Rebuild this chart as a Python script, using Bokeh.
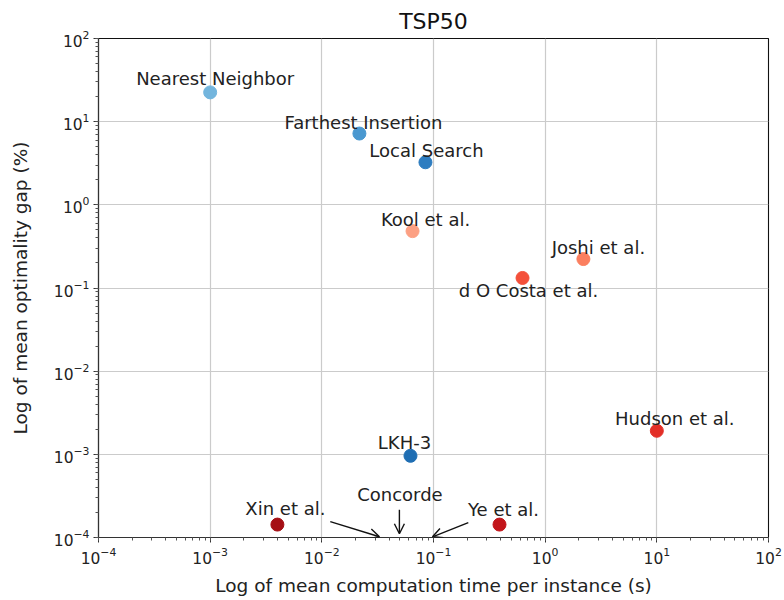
from bokeh.plotting import figure
from bokeh.models import ColumnDataSource, LabelSet, Arrow, OpenHead, Label, Range1d
from bokeh.core.properties import value
from bokeh.embed import file_html
from bokeh.resources import INLINE

# ---- data ----
methods = ["Nearest Neighbor", "Farthest Insertion", "Local Search", "Kool et al.",
           "Joshi et al.", "d O Costa et al.", "Hudson et al.", "LKH-3", "Xin et al.", "Ye et al."]
time_s = [0.001, 0.0217, 0.0847, 0.0649, 2.2, 0.627, 10.0, 0.0622, 0.0040, 0.39]
gap_pct = [22.5, 7.2, 3.25, 0.483, 0.223, 0.132, 0.00192, 0.00096, 0.000143, 0.000143]
colors = ["#73b5dd", "#4a98d0", "#2e7dc0", "#fca083", "#fb7f5f", "#f4503a",
          "#e32f27", "#1f6eb3", "#a50f15", "#c3161b"]
label_dx = [5, 4, 1, 13, 15, 6, 18, -6, 8, 4]
label_dy = [7, 5, 5, 5, 5, -19, 6, 7, 10, 9]

concorde_label = "Concorde"
concorde_text_pos = (0.05, 0.000330)
arrow_tails = [(0.0119, 0.000155), (0.0495, 0.000216), (0.205, 0.000151)]
arrow_tips = [(0.0328, 0.000102), (0.0495, 0.000111), (0.098, 0.000102)]

FONT = "DejaVu Sans"

p = figure(width=784, height=598, x_axis_type="log", y_axis_type="log",
           x_range=Range1d(1e-4, 1e2), y_range=Range1d(1e-4, 1e2),
           output_backend="svg", toolbar_location=None,
           min_border_left=98, min_border_right=16, min_border_top=38, min_border_bottom=60,
           title="TSP50")

p.title.text_font = FONT
p.title.text_font_size = "22px"
p.title.text_font_style = "normal"
p.title.align = "center"
p.title.text_color = "#111111"
p.title.standoff = 9

p.outline_line_color = "#111111"
p.outline_line_width = 1.1
p.background_fill_color = "white"
p.border_fill_color = "white"

for ax in (p.xaxis, p.yaxis):
    ax.axis_line_color = "#333333"
    ax.axis_line_width = 1.2
    ax.major_tick_line_color = "#333333"
    ax.minor_tick_line_color = "#555555"
    ax.major_tick_out = 5
    ax.major_tick_in = 0
    ax.minor_tick_out = 3
    ax.minor_tick_in = 0
    ax.major_label_text_font = FONT
    ax.major_label_text_font_size = "15.5px"
    ax.major_label_text_color = "#222222"
    ax.axis_label_text_font = FONT
    ax.axis_label_text_font_size = "18.5px"
    ax.axis_label_text_font_style = "normal"
    ax.axis_label_text_color = "#222222"
    ax.major_label_standoff = 4

p.xaxis.axis_label_standoff = 8
p.yaxis.axis_label_standoff = 20
p.xaxis.axis_label = "Log of mean computation time per instance (s)"
p.yaxis.axis_label = "Log of mean optimality gap (%)"

p.xgrid.grid_line_color = "#cbcbcb"
p.ygrid.grid_line_color = "#cbcbcb"
p.xgrid.grid_line_width = 1.2
p.ygrid.grid_line_width = 1.2

src = ColumnDataSource(dict(x=time_s, y=gap_pct, c=colors, name=methods,
                            dx=label_dx, dy=label_dy))
p.scatter("x", "y", source=src, size=13, fill_color="c", line_color="c")

labels = LabelSet(x="x", y="y", text="name", source=src, x_offset="dx", y_offset="dy",
                  text_align="center", text_baseline="alphabetic",
                  text_font=value(FONT), text_font_size=value("18px"), text_color="#222222")
p.add_layout(labels)

p.add_layout(Label(x=concorde_text_pos[0], y=concorde_text_pos[1], text=concorde_label,
                   text_align="center", text_baseline="alphabetic", y_offset=0,
                   text_font=FONT, text_font_size="18px", text_color="#222222"))

for (x0, y0), (x1, y1) in zip(arrow_tails, arrow_tips):
    p.add_layout(Arrow(x_start=x0, y_start=y0, x_end=x1, y_end=y1,
                       line_color="#111111", line_width=1.4,
                       end=OpenHead(size=10, line_color="#111111", line_width=1.4)))

open("out.html", "w").write(file_html(p, INLINE))
